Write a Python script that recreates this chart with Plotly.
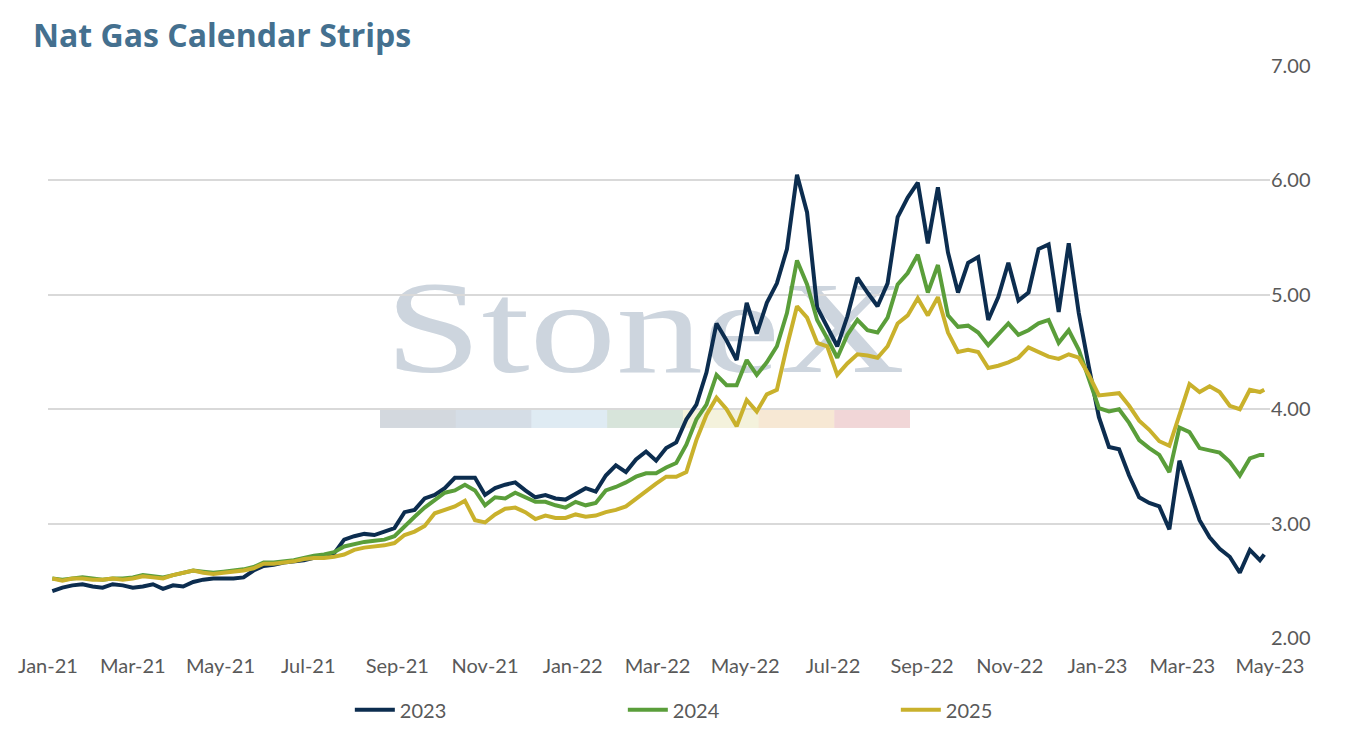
import base64
import pandas as pd
import plotly.graph_objects as go

# weekly readings of the three calendar strips ($/MMBtu)
dates = list(pd.date_range("2021-01-04", "2023-04-24", freq="7D")) + [pd.Timestamp("2023-04-27")]

cal_2023 = [
    2.41, 2.44, 2.46, 2.47, 2.45, 2.44, 2.47, 2.46, 2.44, 2.45,
    2.47, 2.43, 2.46, 2.45, 2.49, 2.51, 2.52, 2.52, 2.52, 2.53,
    2.59, 2.63, 2.64, 2.66, 2.67, 2.68, 2.70, 2.72, 2.74, 2.86,
    2.89, 2.91, 2.90, 2.93, 2.96, 3.10, 3.12, 3.22, 3.25, 3.31,
    3.40, 3.40, 3.40, 3.25, 3.31, 3.34, 3.36, 3.29, 3.23, 3.25,
    3.22, 3.21, 3.26, 3.31, 3.28, 3.42, 3.51, 3.45, 3.56, 3.63,
    3.55, 3.66, 3.71, 3.91, 4.04, 4.32, 4.75, 4.60, 4.43, 4.93,
    4.66, 4.93, 5.10, 5.40, 6.05, 5.72, 4.89, 4.72, 4.55, 4.81,
    5.15, 5.02, 4.90, 5.10, 5.68, 5.85, 5.98, 5.45, 5.94, 5.37,
    5.02, 5.28, 5.33, 4.78, 4.98, 5.28, 4.95, 5.02, 5.40, 5.44,
    4.85, 5.45, 4.84, 4.37, 3.93, 3.67, 3.65, 3.42, 3.23, 3.18,
    3.15, 2.95, 3.55, 3.29, 3.03, 2.88, 2.78, 2.71, 2.57, 2.77,
    2.68, 2.73,
]

cal_2024 = [
    2.52, 2.51, 2.52, 2.53, 2.52, 2.51, 2.52, 2.52, 2.53, 2.55,
    2.54, 2.53, 2.55, 2.57, 2.59, 2.58, 2.57, 2.58, 2.59, 2.60,
    2.62, 2.66, 2.66, 2.67, 2.68, 2.70, 2.72, 2.73, 2.75, 2.80,
    2.82, 2.84, 2.85, 2.86, 2.89, 2.98, 3.06, 3.14, 3.21, 3.27,
    3.29, 3.34, 3.29, 3.16, 3.23, 3.22, 3.27, 3.23, 3.19, 3.19,
    3.16, 3.14, 3.19, 3.16, 3.18, 3.29, 3.32, 3.36, 3.41, 3.44,
    3.44, 3.49, 3.53, 3.69, 3.91, 4.04, 4.30, 4.21, 4.21, 4.43,
    4.30, 4.41, 4.55, 4.84, 5.30, 5.09, 4.78, 4.62, 4.45, 4.65,
    4.78, 4.69, 4.67, 4.80, 5.09, 5.19, 5.35, 5.02, 5.26, 4.82,
    4.72, 4.73, 4.67, 4.56, 4.66, 4.75, 4.65, 4.69, 4.75, 4.78,
    4.58, 4.69, 4.52, 4.27, 4.01, 3.98, 4.00, 3.88, 3.73, 3.66,
    3.60, 3.45, 3.84, 3.80, 3.66, 3.64, 3.62, 3.54, 3.42, 3.57,
    3.60, 3.60,
]

cal_2025 = [
    2.52, 2.50, 2.52, 2.52, 2.51, 2.51, 2.52, 2.51, 2.52, 2.54,
    2.53, 2.52, 2.55, 2.57, 2.59, 2.57, 2.56, 2.57, 2.58, 2.59,
    2.61, 2.65, 2.65, 2.66, 2.67, 2.69, 2.70, 2.70, 2.71, 2.73,
    2.77, 2.79, 2.80, 2.81, 2.83, 2.90, 2.93, 2.98, 3.09, 3.12,
    3.15, 3.20, 3.03, 3.01, 3.08, 3.13, 3.14, 3.10, 3.04, 3.07,
    3.05, 3.05, 3.08, 3.06, 3.07, 3.10, 3.12, 3.15, 3.22, 3.28,
    3.35, 3.41, 3.41, 3.45, 3.73, 3.95, 4.10, 4.00, 3.85, 4.08,
    3.98, 4.13, 4.17, 4.55, 4.90, 4.80, 4.58, 4.55, 4.30, 4.40,
    4.48, 4.47, 4.45, 4.55, 4.75, 4.82, 4.97, 4.82, 4.98, 4.67,
    4.50, 4.52, 4.50, 4.36, 4.38, 4.41, 4.45, 4.54, 4.50, 4.46,
    4.44, 4.48, 4.45, 4.30, 4.12, 4.13, 4.14, 4.03, 3.90, 3.82,
    3.72, 3.68, 3.95, 4.22, 4.15, 4.20, 4.15, 4.03, 4.00, 4.17,
    4.15, 4.17,
]

series_names = ["2023", "2024", "2025"]
series_colors = ["#0c2d4f", "#5a9e3a", "#c9b12c"]

FONT = "Lato"
GREY = "#595959"

# faint StoneX watermark, drawn as an svg under the gridlines
band_colors = ["#d3d8de", "#d5dde6", "#dfebf3", "#d7e4da", "#f4f2dc", "#f7e8d4", "#f1d6d7"]
seg = 530 / len(band_colors)
rects = "".join(
    f'<rect x="{i * seg:.1f}" y="132" width="{seg + 0.5:.1f}" height="18" fill="{c}"/>'
    for i, c in enumerate(band_colors)
)
svg = (
    '<svg xmlns="http://www.w3.org/2000/svg" width="530" height="150" viewBox="0 0 530 150">'
    '<text x="5" y="94" font-family="Liberation Serif, DejaVu Serif, serif" font-size="132" '
    'fill="#cdd5de" textLength="520" lengthAdjust="spacingAndGlyphs">StoneX</text>'
    + rects + "</svg>"
)
watermark = "data:image/svg+xml;base64," + base64.b64encode(svg.encode()).decode()

fig = go.Figure()
for name, vals, col in zip(series_names, [cal_2023, cal_2024, cal_2025], series_colors):
    fig.add_trace(go.Scatter(x=dates, y=vals, name=name, mode="lines",
                             line=dict(color=col, width=4)))

fig.add_layout_image(dict(
    source=watermark, xref="paper", yref="paper",
    x=0.2717, y=0.6294, sizex=0.4337, sizey=0.2622,
    xanchor="left", yanchor="top", sizing="stretch", layer="below",
))

fig.update_layout(
    width=1348, height=731,
    margin=dict(l=48, r=78, t=66, b=93, autoexpand=False),
    paper_bgcolor="white", plot_bgcolor="white",
    title=dict(text="<b>Nat Gas Calendar Strips</b>", x=0.0245, xanchor="left",
               y=0.951, yanchor="middle", xref="container", yref="container",
               font=dict(family="Open Sans", size=32, color="#44708f")),
    font=dict(family=FONT, color=GREY, size=20),
    showlegend=True,
    legend=dict(orientation="h", x=0.247, xanchor="left",
                y=0.029, yanchor="middle", yref="container",
                entrywidth=218, entrywidthmode="pixels",
                font=dict(family=FONT, size=20, color=GREY), itemwidth=40),
    hovermode="x unified",
)
fig.update_xaxes(type="date", range=["2021-01-01", "2023-05-01"], tick0="2021-01-01",
                 dtick="M2", tickformat="%b-%y", showgrid=False, showline=False,
                 zeroline=False, ticks="", ticklabelstandoff=14, automargin=False,
                 tickfont=dict(size=20, color=GREY))
fig.update_yaxes(side="right", range=[2, 7], dtick=1, tickformat=".2f",
                 gridcolor="#d9d9d9", gridwidth=1.5, zeroline=False, showline=False,
                 ticks="", automargin=False, tickfont=dict(size=20, color=GREY))

fig.write_html("out.html", config={"displayModeBar": False},
               post_script="document.body.style.margin='0';")
